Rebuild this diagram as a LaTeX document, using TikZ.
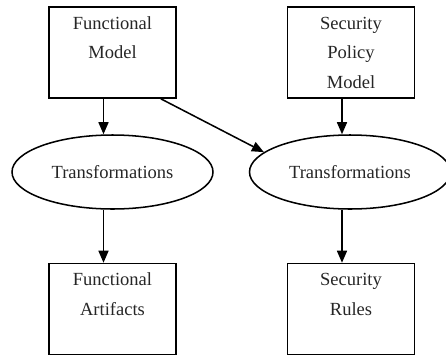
\documentclass[tikz,border=0pt]{standalone}
\usepackage{fontspec}
\setmainfont{Liberation Serif}
\usetikzlibrary{shapes.geometric,arrows.meta}

\begin{document}
\begin{tikzpicture}[x=0.03cm,y=-0.03cm,
		box/.style={draw,line width=1.3pt,minimum width=3.81cm,minimum height=2.73cm,align=center,inner sep=0pt},
		trans/.style={draw,ellipse,line width=1.3pt,minimum width=6.03cm,minimum height=2.22cm,inner sep=0pt},
		flow/.style={line width=1.3pt,-{Triangle[length=0.36cm,width=0.3cm]}},
		every node/.style={font=\fontsize{15.8pt}{25.2pt}\selectfont,text=black!85}]
						\useasboundingbox (0,0) rectangle (446,356);
						\clip (0,0) rectangle (446,356);
						\path (112.5,52.5) node[box] (fm) {Functional\\Model\\\mbox{}};
						\path (351,52.5) node[box] (spm) {Security\\Policy\\Model};
						\path (112.5,172) node[trans] (tl) {Transformations};
						\path (350,172) node[trans] (tr) {Transformations};
						\path (112.5,309) node[box] (fa) {Functional\\Artifacts\\\mbox{}};
						\path (351,309) node[box] (sr) {Security\\Rules\\\mbox{}};
						\draw[flow] ([xshift=-0.27cm]fm.south) -- ([xshift=-0.27cm]tl.north);
						\draw[flow] ([xshift=-0.27cm]spm.south) -- ([xshift=-0.24cm]tr.north);
						\draw[flow] ([xshift=-0.48cm]fm.south east) -- (tr.167);
						\draw[flow] ([xshift=-0.27cm]tl.south) -- ([xshift=-0.27cm]fa.north);
						\draw[flow] ([xshift=-0.24cm]tr.south) -- ([xshift=-0.27cm]sr.north);
					\end{tikzpicture}
\end{document}
